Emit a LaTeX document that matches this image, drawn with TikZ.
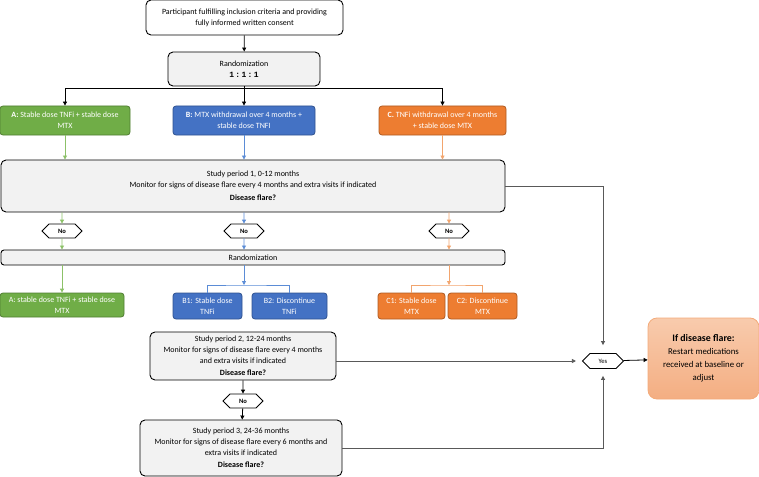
\documentclass[tikz,border=0pt]{standalone}
\usepackage{fontspec}
\setmainfont{Carlito}
\setmonofont{Liberation Mono}
\usetikzlibrary{arrows.meta,shapes.symbols}
\definecolor{armgreen}{HTML}{70AD47}
\definecolor{armblue}{HTML}{4472C4}
\definecolor{armorange}{HTML}{ED7D31}
\definecolor{edgegreen}{HTML}{507E32}
\definecolor{edgeblue}{HTML}{2F528F}
\definecolor{edgeorange}{HTML}{AE5A21}
\definecolor{linegreen}{HTML}{8CC168}
\definecolor{lineblue}{HTML}{5B8CD6}
\definecolor{lineorange}{HTML}{F2A56E}
\definecolor{boxgrey}{HTML}{F2F2F2}
\definecolor{flaretop}{HTML}{F8CBAD}
\definecolor{flarebot}{HTML}{F4AE82}
\tikzset{
  greybox/.style={draw=black, fill=boxgrey, rounded corners=5pt, line width=0.9pt, align=center, inner sep=0pt},
  armbox/.style={rounded corners=3pt, line width=0.8pt, align=center, inner sep=0pt, text=white},
  armA/.style={armbox, fill=armgreen, draw=edgegreen},
  armB/.style={armbox, fill=armblue, draw=edgeblue},
  armC/.style={armbox, fill=armorange, draw=edgeorange},
  hexa/.style={draw=black, fill=white, shape=signal, signal to=west and east, line width=0.8pt, inner sep=0pt, minimum height=14pt, minimum width=40pt},
  lineA/.style={linegreen, line width=0.8pt},
  lineB/.style={lineblue, line width=0.8pt},
  lineC/.style={lineorange, line width=0.8pt},
  flareline/.style={black!65, line width=0.8pt},
}
\newcommand{\hextext}{\fontsize{6.6}{7}\selectfont}
\begin{document}
\begin{tikzpicture}[x=1pt, y=-1pt, >={Triangle[length=4pt,width=4pt]}, font=\fontsize{8}{10.8}\selectfont]
\useasboundingbox (0,0) rectangle (759,476);
% top of the flow
\node[greybox, fill=white, minimum width=197pt, minimum height=35pt] (consent) at (244.5,17.5)
  {Participant fulfilling inclusion criteria and providing\\fully informed written consent};
\node[greybox, minimum width=152pt, minimum height=34pt] (rand1) at (244,69)
  {Randomization\\\texttt{\bfseries 1\,:\,1\,:\,1}};
\draw[->, line width=0.8pt] (consent) -- (rand1);

% the three arms
\node[armA, minimum width=130pt, minimum height=29pt] (armA) at (65,120.5)
  {\textbf{A:} Stable dose TNFi + stable dose\\MTX};
\node[armB, minimum width=142pt, minimum height=29pt] (armB) at (244,120.5)
  {\textbf{B:} MTX withdrawal over 4 months +\\stable dose TNFI};
\node[armC, minimum width=127pt, minimum height=29pt] (armC) at (442.5,120.5)
  {\textbf{C.} TNFi withdrawal over 4 months\\+ stable dose MTX};
\coordinate (split) at (244,88);
\draw[->, line width=0.8pt] (rand1) -- (armB);
\draw[->, line width=0.8pt] (split) -| (armA);
\draw[->, line width=0.8pt] (split) -| (armC);

% study period 1
\node[greybox, minimum width=504pt, minimum height=52pt] (p1) at (253,186)
  {Study period 1, 0-12 months\\Monitor for signs of disease flare every 4 months and extra visits if indicated\\[2pt]\textbf{Disease flare?}};
\draw[lineA, ->] (armA) -- (armA |- p1.north);
\draw[lineB, ->] (armB) -- (armB |- p1.north);
\draw[lineC, ->] (armC) -- (armC |- p1.north);

% no flare
\node[hexa] (noA) at (62,231) {\hextext\bfseries No};
\node[hexa] (noB) at (244,231) {\hextext\bfseries No};
\node[hexa] (noC) at (449,231) {\hextext\bfseries No};
\node[greybox, rounded corners=3pt, minimum width=504pt, minimum height=15pt] (rand2) at (253,257.5) {Randomization};
\draw[lineA, ->] (p1.south -| noA) -- (noA);
\draw[lineB, ->] (p1.south -| noB) -- (noB);
\draw[lineC, ->] (p1.south -| noC) -- (noC);
\draw[lineA, ->] (noA) -- (noA |- rand2.north);
\draw[lineB, ->] (noB) -- (noB |- rand2.north);
\draw[lineC, ->] (noC) -- (noC |- rand2.north);

% second randomization
\node[armA, minimum width=124pt, minimum height=24pt] (armA2) at (62,305)
  {A: stable dose TNFi + stable dose\\MTX};
\node[armB, minimum width=69pt, minimum height=26pt] (b1) at (207.5,306) {B1: Stable dose\\TNFi};
\node[armB, minimum width=75pt, minimum height=26pt] (b2) at (289.5,306) {B2: Discontinue\\TNFi};
\node[armC, minimum width=67pt, minimum height=26pt] (c1) at (411.5,306) {C1: Stable dose\\MTX};
\node[armC, minimum width=69pt, minimum height=26pt] (c2) at (482.5,306) {C2: Discontinue\\MTX};
\coordinate (bsplit) at (244,285);
\coordinate (csplit) at (449,285);
\draw[lineA, ->] (rand2.south -| armA2) -- (armA2);
\draw[lineB, ->] (rand2.south -| bsplit) -- (bsplit);
\draw[lineB] (b1) |- (bsplit) -| (b2);
\draw[lineC, ->] (rand2.south -| csplit) -- (csplit);
\draw[lineC] (c1) |- (csplit) -| (c2);

% study periods 2 and 3
\node[greybox, minimum width=186pt, minimum height=48pt] (p2) at (243,356)
  {Study period 2, 12-24 months\\Monitor for signs of disease flare every 4 months\\and extra visits if indicated\\[2pt]\textbf{Disease flare?}};
\node[hexa] (noD) at (243,401) {\hextext\bfseries No};
\node[greybox, minimum width=202pt, minimum height=56pt] (p3) at (241,448)
  {Study period 3, 24-36 months\\Monitor for signs of disease flare every 6 months and\\extra visits if indicated\\[2pt]\textbf{Disease flare?}};
\draw[->, line width=0.8pt] (p2) -- (noD);
\draw[->, line width=0.8pt] (noD) -- (p3);

% flare
\node[hexa, minimum width=41pt, minimum height=15pt] (yes) at (603,361) {\hextext Yes};
\node[draw=armorange!65, top color=flaretop, bottom color=flarebot, rounded corners=9pt, line width=0.8pt,
  minimum width=111pt, minimum height=81pt, align=center, inner sep=0pt,
  font=\fontsize{8.8}{13}\selectfont] (flare) at (703.5,358.5)
  {{\fontsize{9.9}{13}\selectfont\bfseries If disease flare:}\\Restart medications\\received at baseline or\\adjust};
\draw[flareline, ->, shorten >=8pt] (p1.east) -| (yes.north);
\draw[flareline, ->, shorten >=6pt] (yes.west -| p2.east) -- (yes.west);
\draw[flareline, ->, shorten >=7pt] (p3.east) -| (yes.south);
\draw[->, line width=0.8pt] (yes) -- (flare);
\end{tikzpicture}
\end{document}
